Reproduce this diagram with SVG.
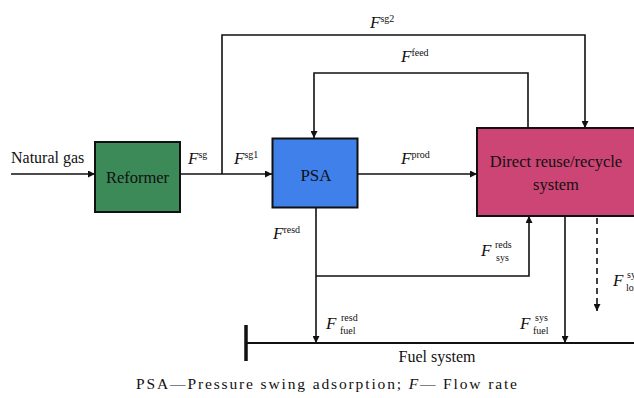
<svg xmlns="http://www.w3.org/2000/svg" width="634" height="398" viewBox="0 0 634 398">
  <style>
    .txt { font-family: "Liberation Serif", "Times New Roman", serif; fill: #111; }
    .lbl { font-family: "Liberation Serif", "Times New Roman", serif; fill: #111; font-size: 16px; }
    .F { font-style: italic; font-size: 17px; }
    .sup { font-size: 10px; }
    .line { fill: none; stroke: #111; stroke-width: 1.6; }
    .box { stroke: #111; stroke-width: 2; }
  </style>
  <defs>
    <marker id="arrow" viewBox="0 0 10 10" refX="10" refY="5" markerWidth="7" markerHeight="7" markerUnits="userSpaceOnUse" orient="auto">
      <path d="M0,0 L10,5 L0,10 z" fill="#111"/>
    </marker>
  </defs>

  <!-- process units -->
  <g id="reformer">
    <rect class="box" x="95" y="142" width="85" height="70" fill="#3c8a57"/>
    <text class="txt" x="137.5" y="183" font-size="16.5" text-anchor="middle">Reformer</text>
  </g>
  <g id="psa">
    <rect class="box" x="272.5" y="138.5" width="85" height="69" fill="#3f80ea"/>
    <text class="txt" x="316" y="181" font-size="17" text-anchor="middle">PSA</text>
  </g>
  <g id="reuse">
    <rect class="box" x="477" y="128" width="170" height="88" fill="#cc4574"/>
    <text class="txt" x="556" y="167" font-size="16.5" text-anchor="middle">Direct reuse/recycle</text>
    <text class="txt" x="556" y="190" font-size="16.5" text-anchor="middle">system</text>
  </g>
  <g id="fuel-system">
    <line x1="246" y1="343" x2="634" y2="343" stroke="#111" stroke-width="1.8"/>
    <line x1="246" y1="325" x2="246" y2="361" stroke="#111" stroke-width="3.5"/>
    <text class="txt" x="437" y="362" font-size="16" text-anchor="middle">Fuel system</text>
  </g>

  <!-- connectors -->
  <g id="connectors">
    <line class="line" x1="11" y1="174" x2="95" y2="174" marker-end="url(#arrow)"/>
    <line class="line" x1="180" y1="174" x2="272" y2="174" marker-end="url(#arrow)"/>
    <polyline class="line" points="222,174 222,35 585,35 585,128" marker-end="url(#arrow)"/>
    <polyline class="line" points="528,128 528,73 314,73 314,138" marker-end="url(#arrow)"/>
    <line class="line" x1="357" y1="174" x2="477" y2="174" marker-end="url(#arrow)"/>
    <line class="line" x1="316" y1="208" x2="316" y2="343" marker-end="url(#arrow)"/>
    <polyline class="line" points="316,276 529,276 529,216" marker-end="url(#arrow)"/>
    <line class="line" x1="565" y1="216" x2="565" y2="343" marker-end="url(#arrow)"/>
    <line class="line" x1="597" y1="218" x2="597" y2="311" stroke-dasharray="6,4" marker-end="url(#arrow)"/>
  </g>

  <!-- stream labels -->
  <g id="labels">
    <text class="lbl" x="11" y="163" font-size="16">Natural gas</text>
    <text class="lbl" x="188" y="164"><tspan class="F">F</tspan><tspan class="sup" dy="-6">sg</tspan></text>
    <text class="lbl" x="234" y="164"><tspan class="F">F</tspan><tspan class="sup" dy="-6">sg1</tspan></text>
    <text class="lbl" x="370" y="28"><tspan class="F">F</tspan><tspan class="sup" dy="-6">sg2</tspan></text>
    <text class="lbl" x="401" y="62"><tspan class="F">F</tspan><tspan class="sup" dy="-6">feed</tspan></text>
    <text class="lbl" x="401" y="164"><tspan class="F">F</tspan><tspan class="sup" dy="-6">prod</tspan></text>
    <text class="lbl" x="273" y="239"><tspan class="F">F</tspan><tspan class="sup" dy="-6">resd</tspan></text>
    <text class="lbl" x="481" y="256"><tspan class="F">F</tspan></text>
    <text class="txt sup" x="495" y="248">reds</text>
    <text class="txt sup" x="496" y="261">sys</text>
    <text class="lbl" x="326" y="329"><tspan class="F">F</tspan></text>
    <text class="txt sup" x="341" y="321">resd</text>
    <text class="txt sup" x="340" y="334">fuel</text>
    <text class="lbl" x="520" y="329"><tspan class="F">F</tspan></text>
    <text class="txt sup" x="535" y="321">sys</text>
    <text class="txt sup" x="533" y="334">fuel</text>
    <!-- loss stream label runs off the right edge of the sheet -->
    <text class="lbl" x="613" y="286"><tspan class="F">F</tspan></text>
    <text class="txt sup" x="627" y="278">sys</text>
    <text class="txt sup" x="626" y="291">loss</text>
  </g>

  <text class="txt" x="136" y="389" font-size="15.5" textLength="381" lengthAdjust="spacing">PSA—Pressure swing adsorption; <tspan font-style="italic">F</tspan>— Flow rate</text>
</svg>
